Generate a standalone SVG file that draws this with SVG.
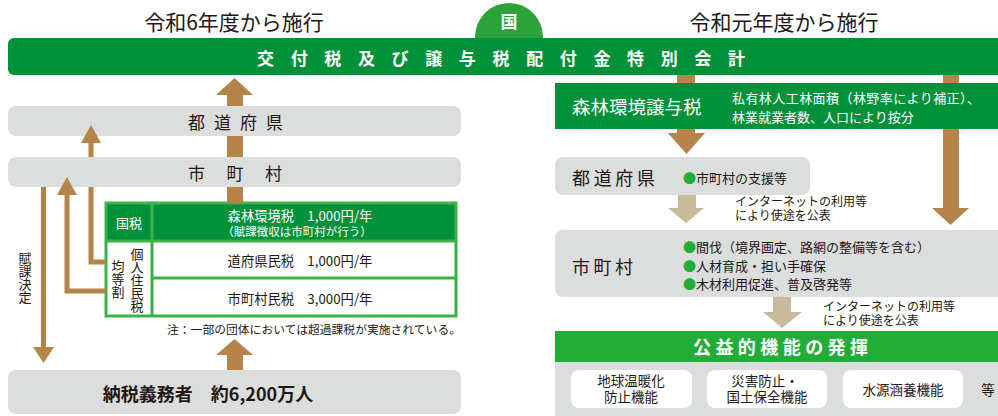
<svg xmlns="http://www.w3.org/2000/svg" width="998" height="416" viewBox="0 0 998 416">
<defs>
<style>
text{font-family:"Noto Sans CJK JP","Noto Sans",sans-serif;dominant-baseline:central;fill:#231815}
.t{font-family:"Liberation Sans","Noto Sans CJK JP",sans-serif}
.v{writing-mode:vertical-rl;dominant-baseline:auto}
.gray{fill:#dcdddd}
.dg{fill:#00913a}
.lg{fill:#22ac38}
.w{fill:#fff}
.br{fill:#b4844a}
.tan{fill:#c8bb9b}
.bs{stroke:#b4844a;stroke-width:5;fill:none}
.tb{fill:none;stroke:#3fb14a;stroke-width:3}
.wt{fill:#fff}
.c{text-anchor:middle}
.bul{fill:#22ac38}
</style>
</defs>
<rect width="998" height="416" fill="#fff"/>

<g id="title-left"><text x="234" y="21" class="c" font-size="21">令和6年度から施行</text></g>
<g id="title-right"><text x="784" y="21" class="c" font-size="21">令和元年度から施行</text></g>

<g id="kuni">
<circle cx="509" cy="37" r="34" fill="#2ca23b"/>
<text x="509" y="20" class="c wt" font-size="17" font-weight="bold">国</text>
</g>

<g id="tokubetsu">
<rect x="8" y="38" width="1000" height="37" rx="6" class="dg"/>
<text x="257" y="57" class="wt" font-size="17" font-weight="bold" textLength="488" lengthAdjust="spacing">交付税及び譲与税配付金特別会計</text>
</g>

<g id="todofuken-left">
<rect x="8" y="106" width="453" height="30" rx="8" class="gray"/>
<text x="188" y="121" font-size="17" textLength="95" lengthAdjust="spacing">都道府県</text>
</g>
<g id="shichoson-left">
<rect x="8" y="157" width="453" height="30" rx="8" class="gray"/>
<text x="188" y="172" font-size="17" textLength="94" lengthAdjust="spacing">市町村</text>
</g>

<g id="tax-table">
<rect x="106" y="203" width="350" height="38" class="dg"/>
<rect x="106" y="241" width="350" height="75" class="w"/>
<rect x="106" y="203" width="350" height="113" class="tb"/>
<line x1="152" y1="203" x2="152" y2="316" stroke="#3fb14a" stroke-width="3"/>
<line x1="106" y1="241" x2="456" y2="241" stroke="#3fb14a" stroke-width="3"/>
<line x1="152" y1="278" x2="456" y2="278" stroke="#3fb14a" stroke-width="3"/>
<text x="129" y="222" class="c wt" font-size="13">国税</text>
<text x="300" y="215" class="c wt" font-size="13.3">森林環境税　1,000円/年</text>
<text x="297" y="231" class="c wt" font-size="11.5">（賦課徴収は市町村が行う）</text>
<text x="300" y="260" class="c" font-size="13.3">道府県民税　1,000円/年</text>
<text x="300" y="298" class="c" font-size="13.3">市町村民税　3,000円/年</text>
<text x="137" y="248" class="v" font-size="13">個人住民税</text>
<text x="118" y="260" class="v" font-size="13">均等割</text>
</g>
<g id="note"><text x="167" y="328" font-size="11.8">注：一部の団体においては超過課税が実施されている。</text></g>

<g id="nozeigimusha">
<rect x="8" y="370" width="453" height="44" rx="8" class="gray"/>
<text x="208" y="393" class="c" font-size="18" font-weight="bold" fill="#333">納税義務者　約6,200万人</text>
</g>

<g id="label-fuka"><text x="25" y="252" class="v" font-size="13">賦課決定</text></g>

<g id="joyozei">
<rect x="555" y="83" width="443" height="46" class="dg"/>
<text x="572" y="106" class="wt" font-size="18.5">森林環境譲与税</text>
<text x="732" y="97" class="wt" font-size="13" textLength="248" lengthAdjust="spacing">私有林人工林面積（林野率により補正）、</text>
<text x="732" y="116" class="wt" font-size="13">林業就業者数、人口により按分</text>
</g>

<g id="todofuken-right">
<rect x="555" y="157" width="255" height="38" rx="8" class="gray"/>
<text x="572" y="177" font-size="18" textLength="83" lengthAdjust="spacing">都道府県</text>
<text x="683" y="177" font-size="13"><tspan class="bul">●</tspan>市町村の支援等</text>
</g>

<g id="shichoson-right">
<rect x="555" y="230" width="450" height="67" rx="8" class="gray"/>
<text x="572" y="266" font-size="18" textLength="61" lengthAdjust="spacing">市町村</text>
<text x="683" y="246" font-size="13"><tspan class="bul">●</tspan>間伐（境界画定、路網の整備等を含む）</text>
<text x="683" y="265" font-size="13"><tspan class="bul">●</tspan>人材育成・担い手確保</text>
<text x="683" y="283" font-size="13"><tspan class="bul">●</tspan>木材利用促進、普及啓発等</text>
</g>

<g id="koueki">
<rect x="555" y="331" width="443" height="31" class="lg"/>
<text x="693" y="346" class="wt" font-size="18" font-weight="bold" textLength="175" lengthAdjust="spacing">公益的機能の発揮</text>
<rect x="555" y="362" width="443" height="54" class="gray"/>
</g>
<g id="func1">
<rect x="571" y="370" width="121" height="38" rx="8" class="w"/>
<text x="631" y="381" class="c t" font-size="13.5">地球温暖化</text>
<text x="631" y="397" class="c t" font-size="13.5">防止機能</text>
</g>
<g id="func2">
<rect x="707" y="370" width="120" height="38" rx="8" class="w"/>
<text x="765" y="381" class="c t" font-size="13.5">災害防止・</text>
<text x="767" y="397" class="c t" font-size="13.5">国土保全機能</text>
</g>
<g id="func3">
<rect x="843" y="370" width="120" height="38" rx="8" class="w"/>
<text x="903" y="389" class="c" font-size="13.5">水源涵養機能</text>
</g>
<g id="etc"><text x="988" y="389" class="c" font-size="13.5">等</text></g>

<g id="notes-right">
<text x="735" y="202" class="t" font-size="12">インターネットの利用等</text>
<text x="735" y="216" class="t" font-size="12">により使途を公表</text>
<text x="823" y="307" class="t" font-size="12">インターネットの利用等</text>
<text x="823" y="321" class="t" font-size="12">により使途を公表</text>
</g>

<g id="connectors">
<rect x="227" y="95" width="16" height="11" class="br"/>
<rect x="227" y="136" width="16" height="21" class="br"/>
<rect x="227" y="187" width="16" height="16" class="br"/>
<polygon points="216,95 253,95 234.5,78" class="br"/>
<rect x="227" y="354" width="16" height="16" class="br"/>
<polygon points="216,355 253,355 234.5,339" class="br"/>
<line x1="43.5" y1="187" x2="43.5" y2="348" class="bs"/>
<polygon points="33,347 54,347 43.5,363" class="br"/>
<polyline points="106,291 67,291 67,194" class="bs"/>
<polygon points="57,195 77,195 67,177" class="br"/>
<polyline points="106,262 91,262 91,187" class="bs"/>
<line x1="91" y1="157" x2="91" y2="142" class="bs"/>
<polygon points="81,143 101,143 91,125" class="br"/>
<rect x="677" y="75" width="18" height="8" class="br"/>
<rect x="943" y="75" width="16" height="8" class="br"/>
<polygon points="668,133 705,133 686.5,154" class="br"/>
<rect x="677" y="129" width="18" height="5" class="br"/>
<rect x="943" y="129" width="16" height="80" class="br"/>
<polygon points="932,208 969,208 950.5,225" class="br"/>
<rect x="678" y="195" width="18" height="14" class="tan"/>
<polygon points="668,208 704,208 686,223" class="tan"/>
<rect x="773" y="297" width="18" height="16" class="tan"/>
<polygon points="763,312 802,312 782,328" class="tan"/>
</g>
</svg>
